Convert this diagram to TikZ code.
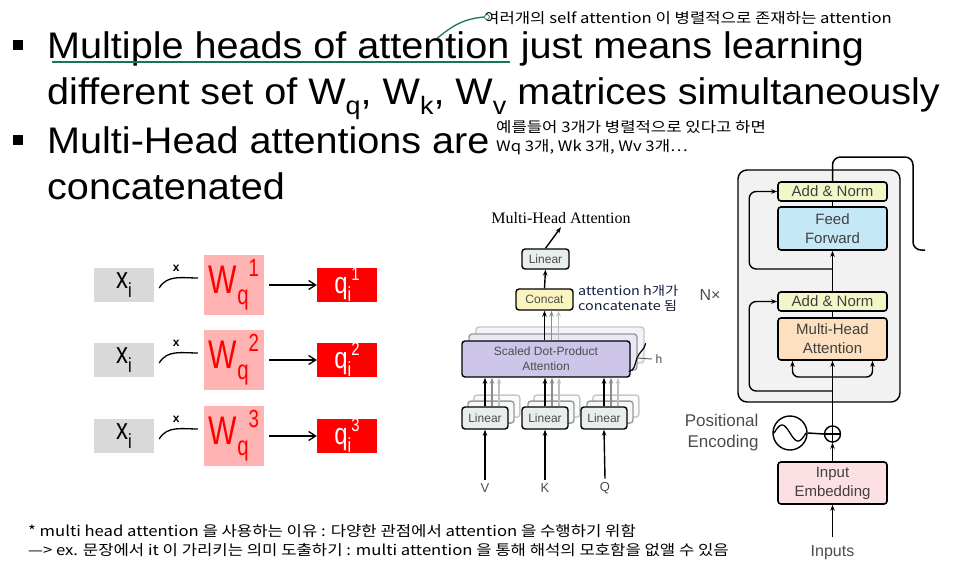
\documentclass[tikz,border=0pt]{standalone}
\usepackage{fontspec}
\usepackage{graphicx}
\setmainfont{Liberation Sans}
\newfontfamily\korfont[FakeStretch=1.15]{Noto Sans CJK KR}
\newfontfamily\widefont[FakeStretch=1.07]{Liberation Sans}
\newfontfamily\narrowfont[FakeStretch=0.8]{Liberation Sans}
\newfontfamily\paperfont{Liberation Serif}
\usetikzlibrary{calc,arrows.meta,positioning,backgrounds}
\definecolor{notegreen}{RGB}{22,118,88}
\definecolor{xgray}{RGB}{217,217,217}
\definecolor{wpink}{RGB}{255,179,179}
\definecolor{qred}{RGB}{255,0,0}
\definecolor{lingray}{RGB}{232,238,236}
\definecolor{concatyellow}{RGB}{250,245,190}
\definecolor{sdpapurple}{RGB}{205,198,233}
\definecolor{encgray}{RGB}{242,242,242}
\definecolor{normyellow}{RGB}{243,246,198}
\definecolor{ffblue}{RGB}{197,232,246}
\definecolor{mhaorange}{RGB}{252,224,192}
\definecolor{embpink}{RGB}{252,224,228}
\definecolor{notenavy}{RGB}{20,28,60}
\newcommand{\lo}[1]{\raisebox{-0.28em}{\scalebox{0.68}{#1}}}
\newcommand{\hi}[1]{\raisebox{0.42em}{\scalebox{0.62}{#1}}}

\begin{document}
\begin{tikzpicture}[x=1pt, y=1pt,
    bigtext/.style={inner sep=0pt, anchor=base west, font=\widefont\fontsize{37}{40}\selectfont},
    bullet/.style={fill=black, minimum size=10pt, inner sep=0pt},
    kornote/.style={inner sep=0pt, anchor=west, align=left, font=\korfont\fontsize{14.5}{19}\selectfont},
    xbox/.style={fill=xgray, minimum width=60pt, minimum height=34pt, inner sep=0pt, font=\narrowfont\fontsize{30}{30}\selectfont},
    wbox/.style={fill=wpink, minimum width=60pt, minimum height=60pt, inner sep=0pt, text=qred, font=\narrowfont\fontsize{40}{40}\selectfont},
    qbox/.style={fill=qred, minimum width=60pt, minimum height=34pt, inner sep=0pt, text=white, font=\narrowfont\fontsize{30}{30}\selectfont},
    warr/.style={-{Straight Barb[length=7pt,width=9pt]}, line width=1.3pt},
    pbox/.style={draw, line width=1.4pt, rounded corners=3pt, inner sep=0pt, align=center, text=black!70, font=\fontsize{12}{15}\selectfont},
    ebox/.style={draw, line width=1.6pt, rounded corners=3pt, inner sep=0pt, minimum width=109pt, align=center, text=black!75, font=\fontsize{15}{19}\selectfont},
    parr/.style={-{Stealth[length=6pt,width=4.5pt]}, line width=1.4pt},
    plabel/.style={text=black!70, font=\fontsize{13}{16}\selectfont}
  ]
  \useasboundingbox (0,0) rectangle (980,-573);

  % Bullet text
  \node[bullet] (b1) at (18,-44.5) {};
  \node[bullet] (b2) at (18,-139.5) {};
  \node[bigtext] (l1a) at (47,-58) {Multiple heads of attention};
  \node[bigtext] (l1b) at (l1a.base east) {\ just means learning};
  \node[bigtext] (l2) at (47,-104) {different set of W\lo{q}, W\lo{k}, W\lo{v} matrices simultaneously};
  \node[bigtext] (l3) at (47,-153) {Multi-Head attentions are};
  \node[bigtext] (l4) at (47,-199) {concatenated};

  % Notes
  \draw[notegreen, line width=1.6pt] ($(l1a.base west)+(5,-4)$) -- ($(l1a.base east)+(0,-4)$);
  \node[kornote] (ann1) at (484,-18) {여러개의 self attention 이 병렬적으로 존재하는 attention};
  \node[circle, draw=notegreen, fill=white, line width=0.8pt, minimum size=5pt, inner sep=0pt] (dot) at (487,-17) {};
  \draw[notegreen, line width=1.3pt] ($(l1a.base east)+(-72,20)$) to[out=40, in=185] (dot.west);
  \node[kornote] (ann2) at (496,-137.5) {예를들어 3개가 병렬적으로 있다고 하면\\Wq 3개, Wk 3개, Wv 3개…};
  \node[kornote] (ann3) at (28,-540.5) {* multi head attention 을 사용하는 이유 : 다양한 관점에서 attention 을 수행하기 위함\\—> ex. 문장에서 it 이 가리키는 의미 도출하기 : multi attention 을 통해 해석의 모호함을 없앨 수 있음};

  % x_i * W_q -> q_i
  \foreach \i/\y in {1/285,2/360,3/436}{
    \node[xbox] (x\i) at (124,-\y) {x\lo{i}};
    \node[wbox] (w\i) at (234,-\y) {\scalebox{0.94}[1]{W\lo{q}\hi{\i}}};
    \node[qbox] (q\i) at (347,-\y) {q\lo{i}\hi{\i}};
    \draw[warr, shorten <=5pt] (w\i.east) -- (q\i.west);
    \draw[line width=1.3pt] ($(x\i.east)+(5,-3)$) to[out=60, in=180] ($(w\i.west)+(-6,7)$);
    \node[font=\bfseries\fontsize{12}{12}\selectfont] (m\i) at ($(x\i.east)+(22,17)$) {x};
  }

  % Multi-Head Attention
  \node[font=\paperfont\fontsize{16}{18}\selectfont] (mhtitle) at (561,-218) {Multi-Head Attention};
  \node[pbox, fill=lingray, minimum width=47pt, minimum height=20pt] (lintop) at (545.5,-259) {Linear};
  \node[pbox, fill=concatyellow, minimum width=57pt, minimum height=21pt] (concat) at (544.5,-299.5) {Concat};
  \node[pbox, fill=sdpapurple, minimum width=168pt, minimum height=36pt] (sdpa) at (546,-359) {Scaled Dot-Product\\Attention};
  \node[pbox, fill=lingray, minimum width=46pt, minimum height=22pt] (linV) at (485,-418) {Linear};
  \node[pbox, fill=lingray, minimum width=46pt, minimum height=22pt] (linK) at (545,-418) {Linear};
  \node[pbox, fill=lingray, minimum width=46pt, minimum height=22pt] (linQ) at (604,-418) {Linear};
  \begin{scope}[on background layer]
    \foreach \off/\o in {14/22,7/40}{
      \node[pbox, draw=black!\o, fill=sdpapurple!\o!white, minimum width=168pt, minimum height=36pt] at ($(sdpa)+(\off,\off)$) {};
      \foreach \n in {linV,linK,linQ}
        \node[pbox, draw=black!\o, fill=lingray!\o!white, minimum width=46pt, minimum height=22pt] at ($(\n)+(0.85*\off,0.85*\off)$) {};
    }
  \end{scope}
  \node[plabel] (inV) at (485,-488) {V};
  \node[plabel] (inK) at (545,-488) {K};
  \node[plabel] (inQ) at (605,-488) {Q};
  \foreach \n in {V,K,Q}{
    \draw[parr] (in\n.north) -- (lin\n.south);
    \draw[parr, black!25] ($(lin\n.north)+(14,0)$) -- ($(lin\n.north |- sdpa.south)+(14,0)$);
    \draw[parr, black!45] ($(lin\n.north)+(7,0)$) -- ($(lin\n.north |- sdpa.south)+(7,0)$);
    \draw[parr] (lin\n.north) -- (lin\n.north |- sdpa.south);
  }
  \draw[parr, black!25] ($(concat.south |- sdpa.north)+(14,0)$) -- ($(concat.south)+(14,0)$);
  \draw[parr, black!45] ($(concat.south |- sdpa.north)+(7,0)$) -- ($(concat.south)+(7,0)$);
  \draw[parr] (concat.south |- sdpa.north) -- (concat.south);
  \draw[parr] (concat.north) -- (lintop.south);
  \draw[parr] (lintop.north) -- (mhtitle.south);
  \node[plabel, anchor=west, font=\fontsize{12}{12}\selectfont] (hlab) at (652,-359) {h};
  \draw[line width=1.2pt] ($(sdpa.north east)+(15,-3)$) to[out=-100, in=70] ($(hlab.west)+(-15,1)$) to[out=-110, in=10] ($(sdpa.south east)+(-2,6)$);
  \draw[line width=1pt, black!60] ($(hlab.west)+(-15,1)$) -- (hlab.west);
  \node[kornote, text=notenavy, font=\korfont\fontsize{12.5}{15}\selectfont] (ann4) at (578,-298.5) {attention h개가\\concatenate 됨};

  % Encoder
  \node[draw, line width=1.4pt, rounded corners=9pt, fill=encgray, minimum width=162pt, minimum height=232pt] (enc) at (819,-286) {};
  \node[ebox, fill=normyellow, minimum height=19pt] (an2) at (832.5,-191.5) {Add \& Norm};
  \node[ebox, fill=ffblue, minimum height=43pt] (ff) at (832.5,-228.5) {Feed\\Forward};
  \node[ebox, fill=normyellow, minimum height=19pt] (an1) at (832.5,-301.5) {Add \& Norm};
  \node[ebox, fill=mhaorange, minimum height=42pt] (mha) at (832.5,-339) {Multi-Head\\Attention};
  \node[ebox, fill=embpink, minimum height=42pt] (emb) at (832.5,-483) {Input\\Embedding};
  \node[circle, draw, line width=1.4pt, minimum size=34pt, inner sep=0pt] (posenc) at (790,-433) {};
  \node[circle, draw, line width=1.4pt, minimum size=16pt, inner sep=0pt] (plus) at (832.5,-434) {};
  \node[plabel, font=\fontsize{16}{18}\selectfont] (inputs) at (832.5,-553) {Inputs};
  \node[plabel, font=\fontsize{16}{18}\selectfont] (nx) at (710,-295) {N×};
  \node[plabel, anchor=east, align=right, font=\fontsize{17}{21}\selectfont] (pelab) at (762,-433) {Positional\\Encoding};
  \begin{scope}[shift={(posenc)}]
    \draw[line width=1.3pt, domain=-16:16, samples=40, smooth] plot (\x, {-8*sin(180*\x/16)});
  \end{scope}
  \draw[line width=1.2pt] (plus.north) -- (plus.south) (plus.west) -- (plus.east);
  \coordinate (res1) at (832.5,-391);
  \coordinate (res2) at (832.5,-269);
  \coordinate (br) at (832.5,-377);
  \coordinate (outr) at (925,-250);
  \draw[parr, shorten <=5pt] (inputs.north) -- (emb.south);
  \draw[parr] (emb.north) -- (plus.south);
  \draw[parr] (plus.north) -- (mha.south);
  \draw[line width=1.5pt] (mha.north) -- (an1.south);
  \draw[parr] (an1.north) -- (ff.south);
  \draw[line width=1.5pt] (ff.north) -- (an2.south);
  \draw[line width=1.5pt] (posenc.east) -- (plus.west);
  \draw[line width=1.5pt, rounded corners=8pt] (an2.north) |- ($(outr)+(-12,93)$) |- (outr);
  \draw[parr, rounded corners=7pt] (res1) -| ($(an1.west)+(-28,0)$) -- (an1.west);
  \draw[parr, rounded corners=7pt] (res2) -| ($(an2.west)+(-28,0)$) -- (an2.west);
  \draw[parr, rounded corners=6pt] (br) -| ($(mha.south)+(-40,0)$);
  \draw[parr, rounded corners=6pt] (br) -| ($(mha.south)+(40,0)$);
\end{tikzpicture}
\end{document}
